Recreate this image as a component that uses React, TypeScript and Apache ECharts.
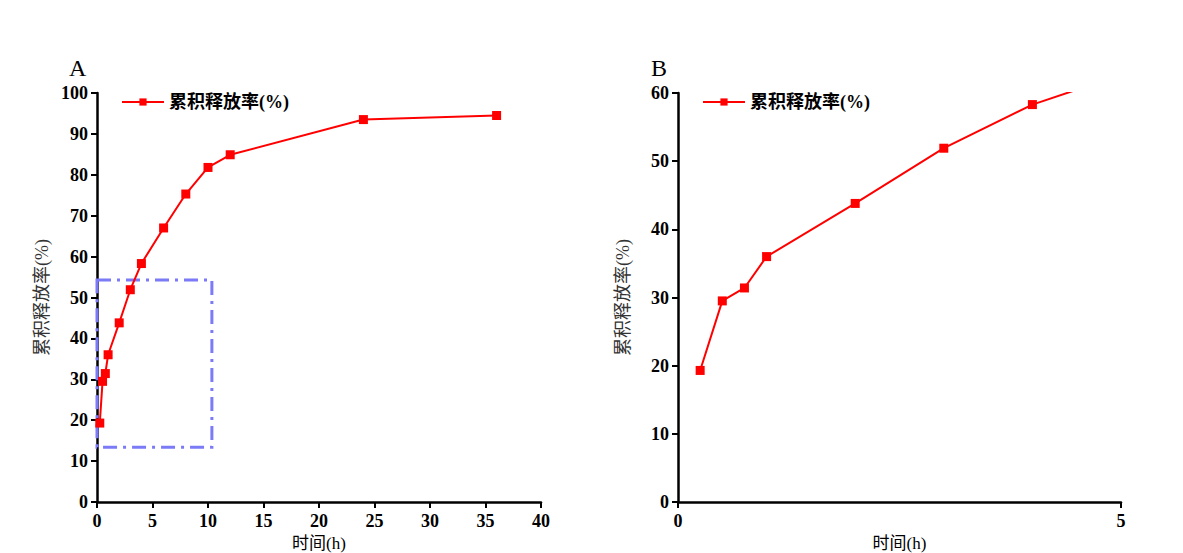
import React, { useEffect, useRef } from "react";
import * as echarts from "echarts";

const timeHours = [0.25, 0.5, 0.75, 1, 2, 3, 4, 6, 8, 10, 12, 24, 36];
const releasePct = [19.3, 29.5, 31.4, 36.0, 43.8, 51.9, 58.3, 67.0, 75.3, 81.8, 84.9, 93.5, 94.5];
const seriesName = "累积释放率(%)";
const xTitle = "时间(h)";
const yTitle = "累积释放率(%)";
const panelLabels = ["A", "B"];
const zoomBox = { x0: 0, x1: 10.35, y0: 13.4, y1: 54.3 };

const serif = "'Liberation Serif', 'Times New Roman', 'Noto Sans CJK SC', serif";

export default function App() {
  const ref = useRef<HTMLDivElement>(null);
  useEffect(() => {
    if (!ref.current) return;
    document.body.style.margin = "0";
    const chart = echarts.init(ref.current, null, { renderer: "svg" });
    const pts = timeHours.map((t, i) => [t, releasePct[i]]);
    const axisLine = { show: true, lineStyle: { color: "#000", width: 2.5 } };
    const axisTick = { show: true, length: 6, lineStyle: { color: "#000", width: 2 } };
    const labelStyle = { color: "#000", fontWeight: "bold" as const, fontSize: 18, fontFamily: serif };
    const xAxisCommon = {
      type: "value" as const,
      name: xTitle,
      nameLocation: "middle" as const,
      nameGap: 33,
      nameTextStyle: { color: "#000", fontSize: 17, fontFamily: serif },
      axisLine,
      axisTick,
      splitLine: { show: false },
      axisLabel: { ...labelStyle, margin: 10 },
    };
    const yAxisCommon = {
      type: "value" as const,
      name: yTitle,
      nameLocation: "middle" as const,
      nameRotate: 90,
      nameGap: 46,
      nameTextStyle: { color: "#333", fontSize: 18, fontFamily: serif },
      axisLine,
      axisTick,
      splitLine: { show: false },
      axisLabel: { ...labelStyle, margin: 9 },
      interval: 10,
      min: 0,
    };
    const seriesCommon = {
      type: "line" as const,
      name: seriesName,
      data: pts,
      symbol: "rect",
      symbolSize: 9,
      itemStyle: { color: "#ff0000" },
      lineStyle: { color: "#ff0000", width: 2 },
      clip: true,
    };
    const legendCommon = {
      data: [seriesName],
      orient: "vertical" as const,
      itemWidth: 42,
      itemHeight: 9,
      textStyle: { color: "#000", fontSize: 18, fontWeight: "bold" as const, fontFamily: serif },
      selectedMode: false,
    };
    chart.setOption({
      animation: false,
      backgroundColor: "#fff",
      grid: [
        { left: 97, top: 93, width: 444, height: 409, containLabel: false, outerBoundsMode: "none" },
        { left: 678, top: 93, width: 443, height: 409, containLabel: false, outerBoundsMode: "none" },
      ],
      xAxis: [
        { ...xAxisCommon, gridIndex: 0, min: 0, max: 40, interval: 5 },
        { ...xAxisCommon, gridIndex: 1, min: 0, max: 5, interval: 5 },
      ],
      yAxis: [
        { ...yAxisCommon, gridIndex: 0, max: 100 },
        { ...yAxisCommon, gridIndex: 1, max: 60 },
      ],
      legend: [
        { ...legendCommon, left: 116, top: 88 },
        { ...legendCommon, left: 697, top: 88 },
      ],
      graphic: [
        { type: "text", left: 69, top: 56, style: { text: panelLabels[0], fontSize: 24, fontFamily: serif, fill: "#000" } },
        { type: "text", left: 651, top: 56, style: { text: panelLabels[1], fontSize: 24, fontFamily: serif, fill: "#000" } },
      ],
      series: [
        {
          ...seriesCommon,
          xAxisIndex: 0,
          yAxisIndex: 0,
          markArea: {
            silent: true,
            itemStyle: {
              color: "rgba(0,0,0,0)",
              borderColor: "#7b7bf7",
              borderWidth: 3,
              borderType: [14, 6, 3, 6],
            },
            data: [[{ coord: [zoomBox.x0, zoomBox.y1] }, { coord: [zoomBox.x1, zoomBox.y0] }]],
          },
        },
        { ...seriesCommon, xAxisIndex: 1, yAxisIndex: 1 },
      ],
    });
    return () => chart.dispose();
  }, []);
  return <div ref={ref} style={{ width: 1183, height: 553 }} />;
}
